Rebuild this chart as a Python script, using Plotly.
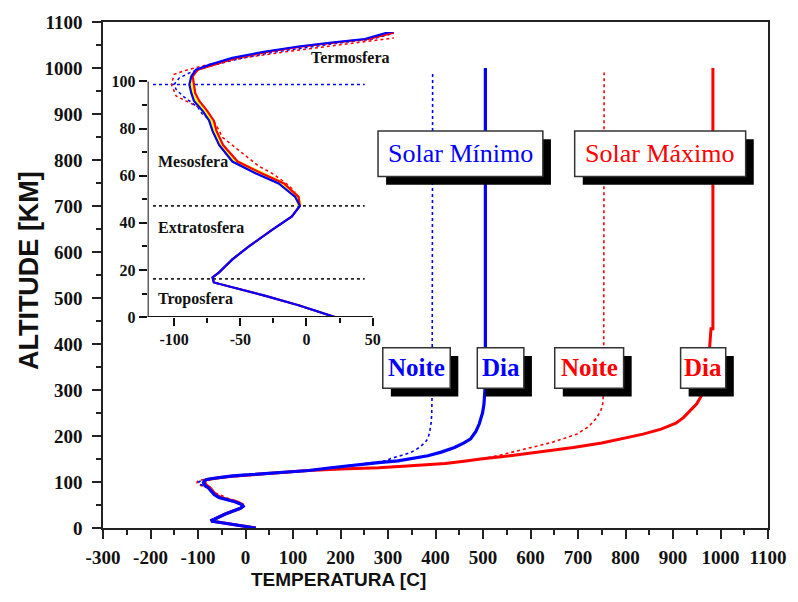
import plotly.graph_objects as go

# ---------------- data: temperature profiles (altitude km, temperature °C) ----------------
# lower atmosphere, common to every profile
ALT_LOW = [0, 5, 9, 12.5, 14.7, 16.8, 19, 24.5, 30, 37, 42.7, 47.2]
T_LOW = [21.5, -6, -31, -56, -70, -71, -66, -56, -43.5, -26, -11, -5]

# mesosphere / lower thermosphere, daytime
ALT_MESO = [51, 56.7, 61, 66, 73, 79, 83.3, 87.5, 91.7, 95, 98.7, 102.2, 105, 107, 110, 112.7, 114.8, 116.5]
T_MESO_MIN = [-8.5, -21, -38.5, -56, -66, -71, -73.5, -78.5, -85, -87, -88.5, -87, -83.5, -73.5, -56, -31, -6, 19]
T_MESO_MAX = [-6, -17, -34, -52, -63, -68, -70, -75, -81, -84, -85, -86, -82, -71, -53, -28, -3, 22]

# intermediate profile shown between the two solar conditions
ALT_MID = [47.2, 51, 56.7, 61, 66, 73, 79, 83.3, 87.5, 91.7, 95, 98.7, 102.2]
T_MID = [-5, -7, -19, -36, -54, -64.5, -69.5, -72, -77, -83, -85.5, -87, -86.5]

# mesosphere / lower thermosphere, night-time
ALT_MESO_N_MIN = [51, 56.7, 61, 66, 73, 79, 84, 86, 89, 93.8, 96.6, 98.7, 101.5, 103.6, 105.5, 107.5, 110, 112.5, 114.5, 116.3]
T_MESO_N_MIN = [-8.5, -21, -38.5, -56, -66, -71, -74, -78.5, -82, -93.5, -98.5, -100, -96, -88.5, -80, -66, -48, -24, 0, 25]
ALT_MESO_N_MAX = [51, 54, 57, 61, 64, 70.7, 76.3, 81.9, 87.5, 91, 93.8, 98.7, 103, 104.3, 106.4, 108.5, 110.6, 112.7, 114.8, 116.5]
T_MESO_N_MAX = [-6, -10, -16, -26, -36, -51, -63.5, -68.5, -76, -88.5, -98.5, -102, -100, -93.5, -80, -62, -40, -14, 12, 35]

# thermosphere
ALT_TH_MIN_DIA = [118, 121, 125, 131, 138, 142, 146, 151, 157, 165, 175, 185, 194, 210, 226, 250, 269, 300, 350, 1000]
T_TH_MIN_DIA = [44, 63, 133, 180, 237, 280, 321, 355, 384, 412, 440, 460, 474, 485, 492, 499, 502, 504, 505, 505]

ALT_TH_MIN_NOITE = [118, 121, 125, 131, 138, 143, 146, 151, 157, 164, 175, 185, 194, 210, 230, 248, 300, 990]
T_TH_MIN_NOITE = [50, 70, 133, 180, 237, 279, 295, 306, 325, 348, 366, 377, 384, 388, 391, 392, 393, 394]

ALT_TH_MAX_DIA = [118, 121, 125, 128, 131, 135, 140, 145, 150, 157, 166, 175, 185, 195, 204, 215, 228, 240,
                  254, 270, 286, 310, 350, 400, 433, 433, 1000]
T_TH_MAX_DIA = [47, 68, 133, 200, 280, 340, 420, 460, 495, 557, 630, 690, 750, 800, 837, 875, 906, 922,
                936, 950, 959, 967, 974, 978, 980, 984, 984]

ALT_TH_MAX_NOITE = [118.3, 121, 125, 128, 131, 135, 140, 145, 150, 157, 164, 175, 185, 195, 204, 220, 239, 255, 270, 300, 990]
T_TH_MAX_NOITE = [58, 85, 140, 200, 280, 340, 420, 460, 495, 530, 557, 605, 641, 672, 697, 722, 739, 748, 752, 754, 755]

# layer boundaries drawn in the inset
BOUNDARY_ALTS = [16.2, 47.2]
MESOPAUSE_ALT = 98.7
BOUNDARY_T_SPAN = [-116, 44]

# axis ticks
MAIN_X_TICKS = list(range(-300, 1101, 100))
MAIN_Y_TICKS = list(range(0, 1101, 100))
INSET_X_TICKS = [-100, -50, 0, 50]
INSET_Y_TICKS = [0, 20, 40, 60, 80, 100]

BLUE = "#0000ff"
RED = "#ff0000"
YELLOW = "#ffff00"
INK = "#111111"
SERIF = "Liberation Serif"
SANS = "Liberation Sans"


def profile(alt_meso, t_meso, alt_th, t_th):
    return ALT_LOW + alt_meso + alt_th, T_LOW + t_meso + t_th


def labels(vals):
    # plain hyphen for negative numbers
    return [str(v) for v in vals]


min_dia = profile(ALT_MESO, T_MESO_MIN, ALT_TH_MIN_DIA, T_TH_MIN_DIA)
max_dia = profile(ALT_MESO, T_MESO_MAX, ALT_TH_MAX_DIA, T_TH_MAX_DIA)
min_noite = profile(ALT_MESO_N_MIN, T_MESO_N_MIN, ALT_TH_MIN_NOITE, T_TH_MIN_NOITE)
max_noite = profile(ALT_MESO_N_MAX, T_MESO_N_MAX, ALT_TH_MAX_NOITE, T_TH_MAX_NOITE)

fig = go.Figure()

# ---------------- main panel ----------------
for (alt, t), color, dash, w in [
    (max_noite, RED, "dot", 1.6),
    (min_noite, BLUE, "dot", 1.6),
    (max_dia, RED, "solid", 3),
    (min_dia, BLUE, "solid", 3.2),
]:
    fig.add_trace(go.Scatter(x=t, y=alt, mode="lines", xaxis="x", yaxis="y",
                             line=dict(color=color, width=w, dash=dash), hoverinfo="skip",
                             showlegend=False))

# ---------------- inset panel ----------------
for b in BOUNDARY_ALTS:
    fig.add_trace(go.Scatter(x=BOUNDARY_T_SPAN, y=[b, b], mode="lines", xaxis="x2", yaxis="y2",
                             line=dict(color="#222", width=1.6, dash="dot"), showlegend=False))
fig.add_trace(go.Scatter(x=BOUNDARY_T_SPAN, y=[MESOPAUSE_ALT, MESOPAUSE_ALT], mode="lines",
                         xaxis="x2", yaxis="y2", line=dict(color=BLUE, width=1.6, dash="dot"),
                         showlegend=False))

for (alt, t), color, dash, w in [
    (max_noite, RED, "dot", 1.5),
    (min_noite, BLUE, "dot", 1.5),
]:
    fig.add_trace(go.Scatter(x=t, y=alt, mode="lines", xaxis="x2", yaxis="y2",
                             line=dict(color=color, width=w, dash=dash), showlegend=False))
fig.add_trace(go.Scatter(x=T_MID, y=ALT_MID, mode="lines", xaxis="x2", yaxis="y2",
                         line=dict(color=YELLOW, width=5), showlegend=False))
for (alt, t), color in [(max_dia, RED), (min_dia, BLUE)]:
    fig.add_trace(go.Scatter(x=t, y=alt, mode="lines", xaxis="x2", yaxis="y2",
                             line=dict(color=color, width=2.2), showlegend=False))

# ---------------- geometry ----------------
W, H = 798, 602
ML, MR, MT, MB = 103, 25, 17, 74
PW, PH = W - ML - MR, H - MT - MB


def px_x(px):
    return (px - ML) / PW


def px_y(py):
    return (H - MB - py) / PH


INSET_X = [-120, 66]
INSET_Y = [0, 121]
inset_dom_x = [px_x(148), px_x(396)]
inset_dom_y = [px_y(315), px_y(27)]

tick_font = dict(family=SERIF, size=19, color=INK, weight="bold")
inset_tick_font = dict(family=SERIF, size=16, color=INK, weight="bold")

fig.update_layout(
    width=W, height=H,
    margin=dict(l=ML, r=MR, t=MT, b=MB),
    paper_bgcolor="white", plot_bgcolor="white",
    showlegend=False,
    xaxis=dict(range=[-300, 1100], tickmode="array", tickvals=MAIN_X_TICKS,
               ticktext=labels(MAIN_X_TICKS),
               ticks="outside", ticklen=9, tickwidth=1.5, tickcolor="#222",
               minor=dict(tickmode="linear", tick0=-300, dtick=50, ticks="outside",
                          ticklen=5, tickwidth=1.5, tickcolor="#222"),
               showline=True, linecolor="#222", linewidth=1.5, mirror=True,
               showgrid=False, zeroline=False, tickfont=tick_font, ticklabelstandoff=2),
    yaxis=dict(range=[0, 1100], tickmode="array", tickvals=MAIN_Y_TICKS,
               ticktext=labels(MAIN_Y_TICKS),
               ticks="outside", ticklen=9, tickwidth=1.5, tickcolor="#222",
               minor=dict(tickmode="linear", tick0=0, dtick=50, ticks="outside",
                          ticklen=5, tickwidth=1.5, tickcolor="#222"),
               showline=True, linecolor="#222", linewidth=1.5, mirror=True,
               showgrid=False, zeroline=False, tickfont=tick_font, ticklabelstandoff=6),
    xaxis2=dict(domain=inset_dom_x, anchor="y2", range=INSET_X,
                tickmode="array", tickvals=INSET_X_TICKS, ticktext=labels(INSET_X_TICKS),
                ticks="outside", ticklen=8, tickwidth=1.5, tickcolor="#111",
                minor=dict(tickmode="array", tickvals=[-75, -25, 25], ticks="outside",
                           ticklen=5, tickwidth=1.5, tickcolor="#111"),
                showline=False, showgrid=False, zeroline=False, tickfont=inset_tick_font),
    yaxis2=dict(domain=inset_dom_y, anchor="x2", range=INSET_Y,
                tickmode="array", tickvals=INSET_Y_TICKS, ticktext=labels(INSET_Y_TICKS),
                ticks="outside", ticklen=8, tickwidth=1.5, tickcolor="#111",
                minor=dict(tickmode="array", tickvals=[10, 30, 50, 70, 90], ticks="outside",
                           ticklen=5, tickwidth=1.5, tickcolor="#111"),
                showline=False, showgrid=False, zeroline=False, tickfont=inset_tick_font),
)

# inset axis lines (only over the labelled span)
fig.add_shape(type="line", xref="x2", yref="y2", x0=-120, x1=50, y0=0, y1=0,
              line=dict(color="#111", width=2), layer="above")
fig.add_shape(type="line", xref="x2", yref="y2", x0=-120, x1=-120, y0=0, y1=100,
              line=dict(color="#111", width=2), layer="above")

# inset layer names
for text, x, y, anchor in [("Termosfera", 64.5, 110, "right"), ("Mesosfera", -114, 66, "left"),
                           ("Extratosfera", -114, 38, "left"), ("Troposfera", -114, 7.6, "left")]:
    fig.add_annotation(x=x, y=y, xref="x2", yref="y2", text=f"<b>{text}</b>", showarrow=False,
                       xanchor=anchor, yanchor="middle",
                       font=dict(family=SERIF, size=16, color=INK))

# shadowed label boxes: (text, colour, font size, bold, x0, x1, y0, y1)
BOXES = [
    ("Solar Mínimo", BLUE, 26, False, 279, 626, 764, 863),
    ("Solar Máximo", RED, 26, False, 693, 1053, 764, 863),
    ("Noite", BLUE, 25, True, 289, 431, 304, 392),
    ("Dia", BLUE, 25, True, 488, 586, 304, 392),
    ("Noite", RED, 25, True, 651, 796, 304, 392),
    ("Dia", RED, 25, True, 916, 1011, 304, 392),
]
SHADOW_DX, SHADOW_DY = 17, 18
for text, color, size, bold, x0, x1, y0, y1 in BOXES:
    fig.add_shape(type="rect", xref="x", yref="y", x0=x0 + SHADOW_DX, x1=x1 + SHADOW_DX,
                  y0=y0 - SHADOW_DY, y1=y1 - SHADOW_DY, fillcolor="black",
                  line=dict(width=0), layer="above")
    fig.add_shape(type="rect", xref="x", yref="y", x0=x0, x1=x1, y0=y0, y1=y1,
                  fillcolor="white", line=dict(color="#333", width=1.5), layer="above")
    label = f"<b>{text}</b>" if bold else text
    fig.add_annotation(x=(x0 + x1) / 2, y=(y0 + y1) / 2, xref="x", yref="y", text=label,
                       showarrow=False, xanchor="center", yanchor="middle",
                       font=dict(family=SERIF, size=size, color=color))

# axis titles
fig.add_annotation(x=px_x(340), y=px_y(580), xref="paper", yref="paper",
                   text="<b>TEMPERATURA [C]</b>", showarrow=False,
                   xanchor="center", yanchor="middle",
                   font=dict(family=SANS, size=19, color=INK))
fig.add_annotation(x=px_x(28), y=px_y(268), xref="paper", yref="paper",
                   text="<b>ALTITUDE [KM]</b>", showarrow=False, textangle=-90,
                   xanchor="center", yanchor="middle",
                   font=dict(family=SANS, size=27, color=INK))

fig.write_html("out.html")
